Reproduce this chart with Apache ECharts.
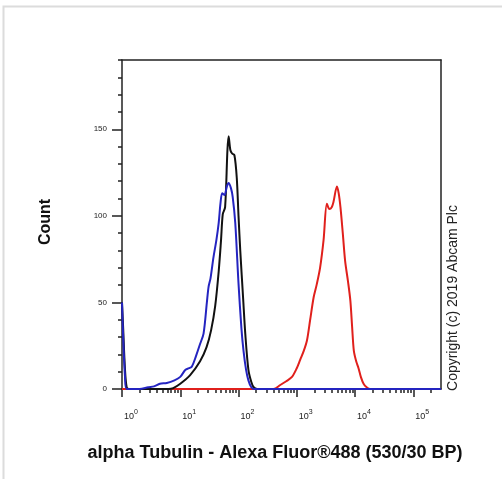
<!DOCTYPE html>
<html>
<head>
<meta charset="utf-8">
<script src="https://cdn.jsdelivr.net/npm/echarts@6/dist/echarts.min.js"></script>
<style>html,body{margin:0;padding:0;background:#fff}#c{width:502px;height:479px}</style>
</head>
<body>
<div id="c"></div>
<script>
// x values are log10 of fluorescence intensity
const xMajorTicks = [0, 1, 2, 3, 4, 5];
const xMinorTicks = [];
for (let n = 0; n <= 5; n++) { for (let k = 2; k <= 9; k++) { const v = n + Math.log10(k); if (v < 5.47) xMinorTicks.push(+v.toFixed(4)); } }
const yMajorTicks = [0, 50, 100, 150];
const xTitle = 'alpha Tubulin - Alexa Fluor®488 (530/30 BP)';
const yTitle = 'Count';
const copyright = 'Copyright (c) 2019 Abcam Plc';

const blackX = [0, 0.02, 0.05, 0.08, 0.12, 0.8, 0.88, 1.0, 1.17, 1.34, 1.45, 1.53, 1.6, 1.66, 1.7, 1.73, 1.77, 1.81, 1.83, 1.86, 1.89, 1.93, 1.97, 2.0, 2.03, 2.08, 2.116, 2.17, 2.22, 2.26, 2.32, 5.476];
const blackY = [50, 35, 12, 1, 0, 0, 0.5, 3, 8, 16, 24, 34, 48, 68, 86, 101, 105, 138, 146, 138, 136, 135, 122, 100, 80, 52, 32, 11, 4, 1, 0, 0];

const blueX = [0, 0.02, 0.05, 0.08, 0.3, 0.45, 0.55, 0.65, 0.77, 0.9, 1.0, 1.086, 1.15, 1.2, 1.27, 1.34, 1.4, 1.457, 1.486, 1.52, 1.57, 1.62, 1.66, 1.69, 1.72, 1.76, 1.8, 1.83, 1.87, 1.9, 1.944, 2.0, 2.05, 2.086, 2.13, 2.17, 2.22, 2.27, 5.476];
const blueY = [50, 30, 8, 0, 0, 1, 1.5, 3, 3.5, 5, 7, 11, 12, 13, 19, 26, 32, 50, 59, 64, 76, 86, 96, 107, 113, 112, 117, 119, 116, 111, 96, 61, 35, 22, 11, 5, 1, 0, 0];

const redX = [0, 2.6, 2.717, 2.82, 2.918, 3.0, 3.06, 3.12, 3.175, 3.23, 3.29, 3.34, 3.4, 3.46, 3.517, 3.56, 3.6, 3.63, 3.69, 3.72, 3.75, 3.79, 3.83, 3.88, 3.92, 3.95, 3.98, 4.02, 4.06, 4.1, 4.147, 4.2, 4.26, 5.476];
const redY = [0, 0, 2.3, 4.5, 7, 12, 17, 22, 28, 40, 53, 60, 70, 86, 107, 104, 105, 108, 117, 113, 105, 90, 74, 62, 51, 36, 22, 16, 12, 7, 3, 1, 0, 0];

const pairs = (xs, ys) => xs.map((x, i) => [x, ys[i]]);
const FONT = 'Liberation Sans, Arial, sans-serif';
const INK = '#222';
const xMax = 5.476, yMax = 190;

const chart = echarts.init(document.getElementById('c'), null, {renderer: 'canvas'});
const lineSeries = (name, xs, ys, color) => ({
  name, type: 'line', xAxisIndex: 0, yAxisIndex: 0, data: pairs(xs, ys),
  showSymbol: false, smooth: 0.3, clip: true, animation: false,
  lineStyle: {color, width: 2}
});
chart.setOption({
  animation: false,
  grid: {left: 122, right: 61, top: 60, bottom: 90, show: false},
  xAxis: [
    {type: 'value', min: 0, max: xMax, position: 'bottom',
     axisLine: {show: true, onZero: false, lineStyle: {color: INK, width: 1.5}},
     axisTick: {show: true, inside: false, length: 8, customValues: xMajorTicks, lineStyle: {color: INK, width: 1.5}},
     axisLabel: {show: true, customValues: xMajorTicks, margin: 20, padding: [0, 0, 0, 18],
       formatter: v => '{a|10}{b|' + Math.round(v) + '}',
       rich: {a: {fontSize: 9, fontFamily: FONT, color: INK}, b: {fontSize: 7, fontFamily: FONT, color: INK, padding: [0, 0, 8, 0]}}},
     splitLine: {show: false}},
    {type: 'value', min: 0, max: xMax, position: 'bottom',
     axisLine: {show: false, onZero: false},
     axisTick: {show: true, inside: false, length: 4, customValues: xMinorTicks, lineStyle: {color: INK, width: 1.5}},
     axisLabel: {show: false}, splitLine: {show: false}},
    {type: 'value', min: 0, max: xMax, position: 'top',
     axisLine: {show: true, onZero: false, lineStyle: {color: INK, width: 1.5}},
     axisTick: {show: false}, axisLabel: {show: false}, splitLine: {show: false}}
  ],
  yAxis: [
    {type: 'value', min: 0, max: yMax, position: 'left',
     axisLine: {show: true, onZero: false, lineStyle: {color: INK, width: 1.5}},
     axisTick: {show: true, length: 10, customValues: yMajorTicks, lineStyle: {color: INK, width: 1.5}},
     axisLabel: {show: true, customValues: yMajorTicks, margin: 15, fontSize: 8, fontFamily: FONT, color: INK},
     splitLine: {show: false}},
    {type: 'value', min: 0, max: yMax, interval: 10, position: 'left',
     axisLine: {show: false, onZero: false},
     axisTick: {show: true, length: 4, lineStyle: {color: INK, width: 1.5}},
     axisLabel: {show: false}, splitLine: {show: false}},
    {type: 'value', min: 0, max: yMax, position: 'right',
     axisLine: {show: true, onZero: false, lineStyle: {color: INK, width: 1.5}},
     axisTick: {show: false}, axisLabel: {show: false}, splitLine: {show: false}}
  ],
  series: [
    lineSeries('red', redX, redY, '#e0201c'),
    lineSeries('black', blackX, blackY, '#111111'),
    lineSeries('blue', blueX, blueY, '#2424c0')
  ],
  graphic: [
    {type: 'polyline', shape: {points: [[3.5, 479], [3.5, 6.5], [502, 6.5]]}, style: {stroke: '#dcdcdc', lineWidth: 2, fill: null}, silent: true},
    {type: 'text', x: 275, y: 453, style: {text: xTitle, font: 'bold 18px ' + FONT, fill: '#111', align: 'center', verticalAlign: 'middle'}},
    {type: 'text', x: 46, y: 222, rotation: Math.PI / 2, style: {text: yTitle, font: 'bold 16px ' + FONT, fill: '#111', align: 'center', verticalAlign: 'middle'}},
    {type: 'text', x: 453, y: 298, rotation: Math.PI / 2, style: {text: copyright, font: '14px ' + FONT, fill: '#222', align: 'center', verticalAlign: 'middle'}}
  ]
});
</script>
</body>
</html>
